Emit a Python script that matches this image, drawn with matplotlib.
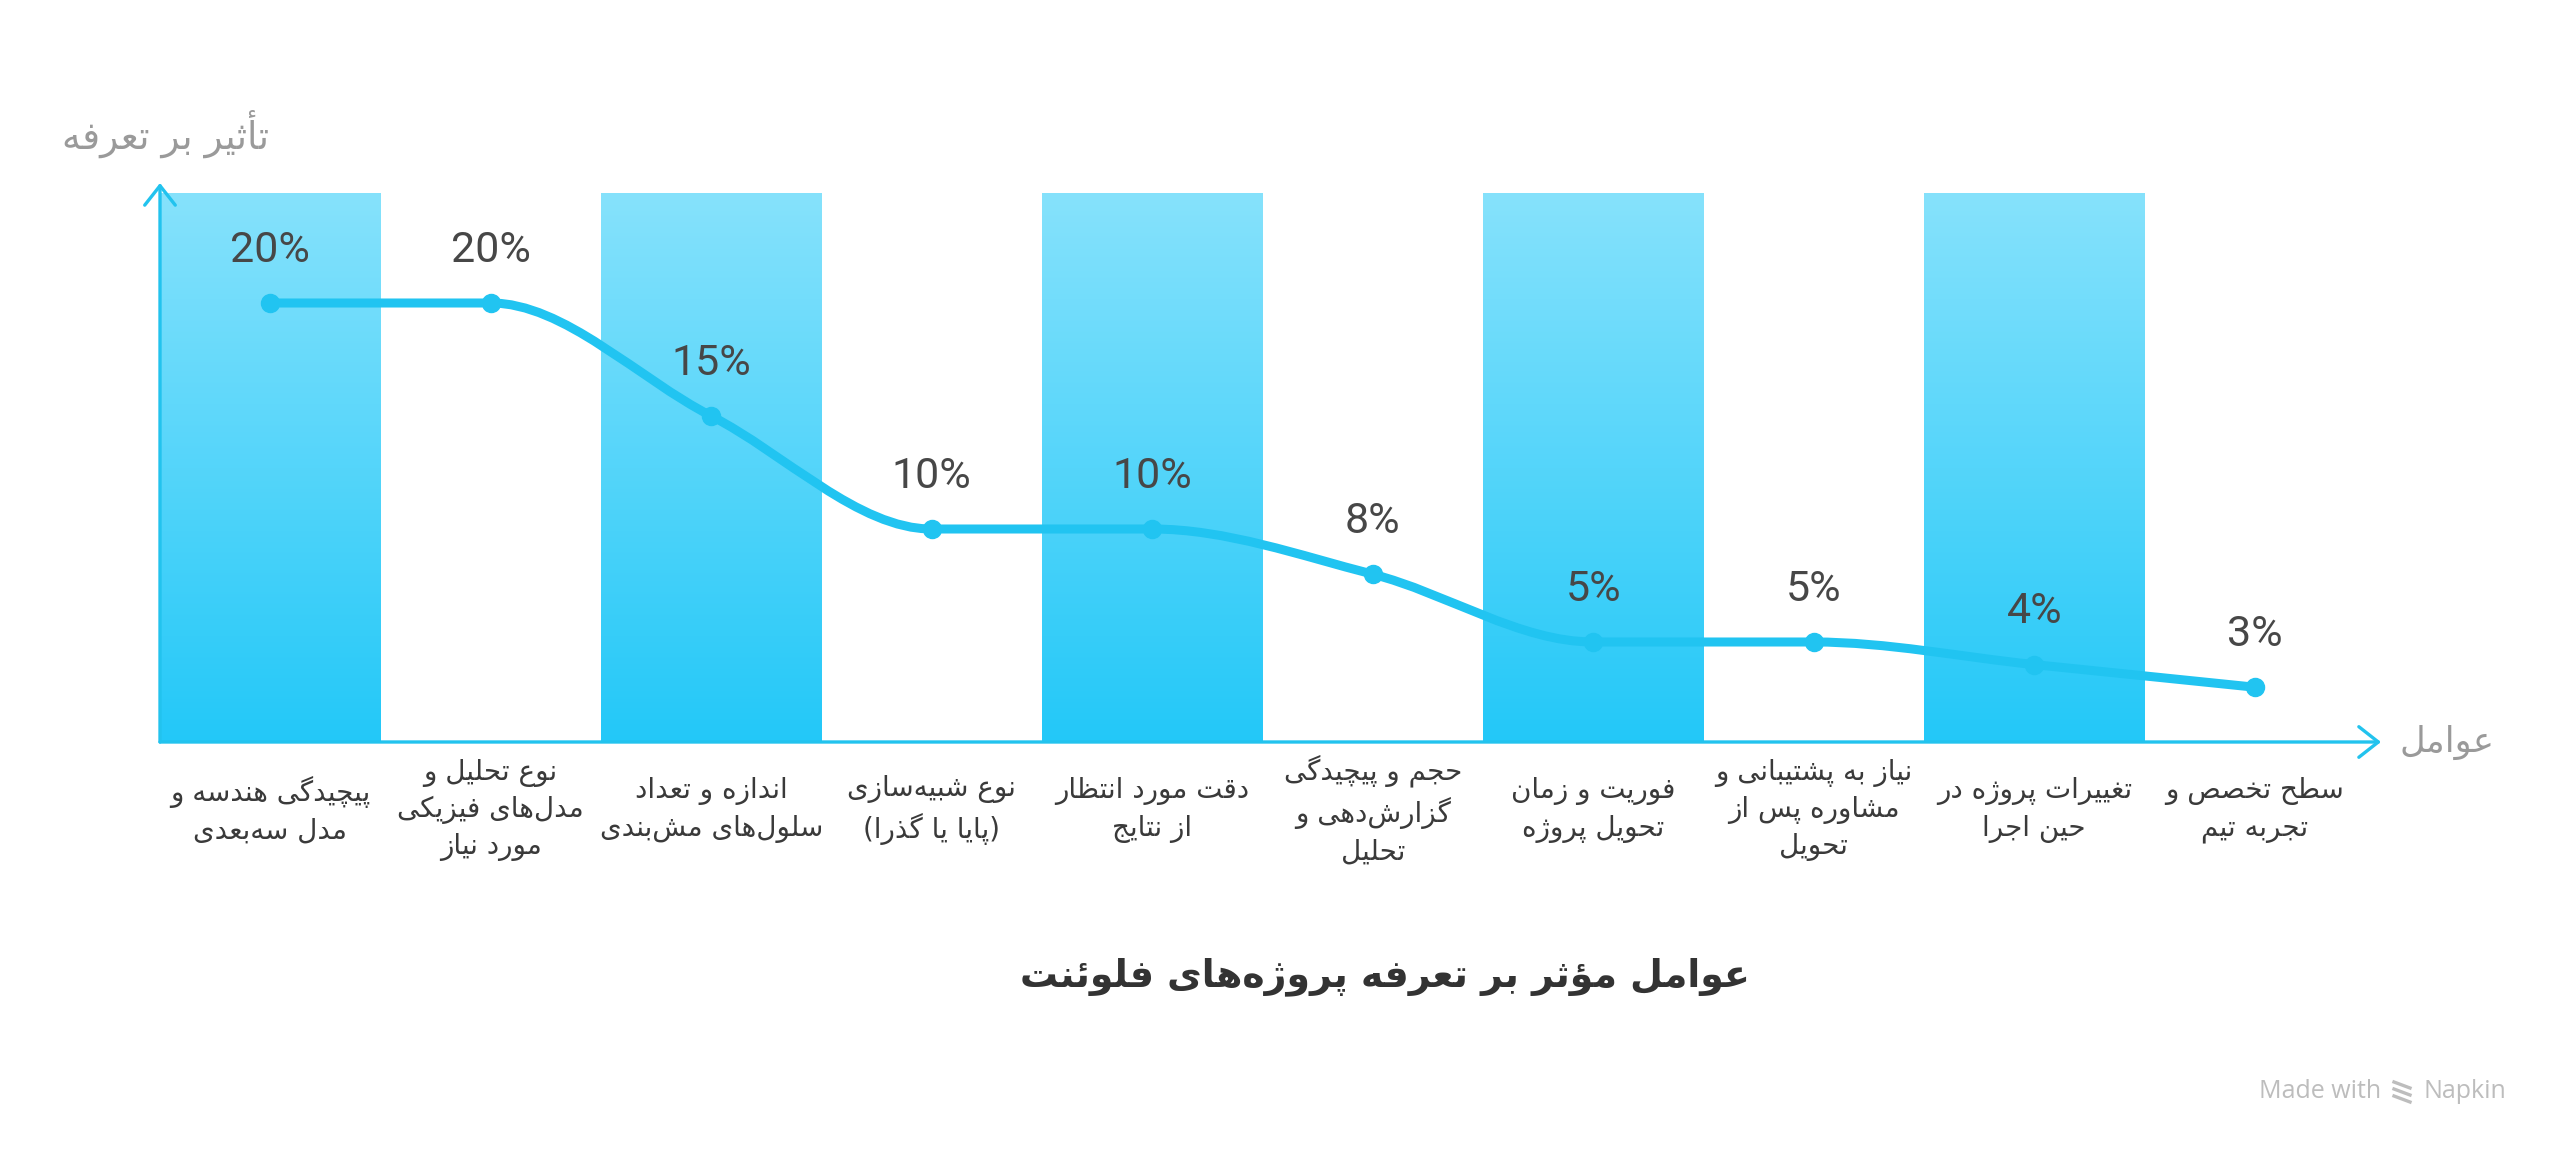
import numpy as np
import matplotlib
matplotlib.use("Agg")
import matplotlib.pyplot as plt
from matplotlib.path import Path
from matplotlib.patches import PathPatch
from matplotlib.colors import LinearSegmentedColormap

# ---------------- data ----------------
categories = [
    "پیچیدگی هندسه و\nمدل سه‌بعدی",
    "نوع تحلیل و\nمدل‌های فیزیکی\nمورد نیاز",
    "اندازه و تعداد\nسلول‌های مش‌بندی",
    "نوع شبیه‌سازی\n(پایا یا گذرا)",
    "دقت مورد انتظار\nاز نتایج",
    "حجم و پیچیدگی\nگزارش‌دهی و\nتحلیل",
    "فوریت و زمان\nتحویل پروژه",
    "نیاز به پشتیبانی و\nمشاوره پس از\nتحویل",
    "تغییرات پروژه در\nحین اجرا",
    "سطح تخصص و\nتجربه تیم",
]
values = [20, 20, 15, 10, 10, 8, 5, 5, 4, 3]
value_labels = ["20%", "20%", "15%", "10%", "10%", "8%", "5%", "5%", "4%", "3%"]
y_label = "تأثیر بر تعرفه"
x_label = "عوامل"
title = "عوامل مؤثر بر تعرفه پروژه‌های فلوئنت"
watermark_left = "Made with"
watermark_right = "Napkin"

# ---------------- minimal Persian shaping (matplotlib has no RTL shaping) ----------------
FORMS = {
    "\u0627": ("\uFE8D", "\uFE8E", None, None),
    "\u0623": ("\uFE83", "\uFE84", None, None),
    "\u0625": ("\uFE87", "\uFE88", None, None),
    "\u0622": ("\uFE81", "\uFE82", None, None),
    "\u062F": ("\uFEA9", "\uFEAA", None, None),
    "\u0630": ("\uFEAB", "\uFEAC", None, None),
    "\u0631": ("\uFEAD", "\uFEAE", None, None),
    "\u0632": ("\uFEAF", "\uFEB0", None, None),
    "\u0698": ("\uFB8A", "\uFB8B", None, None),
    "\u0648": ("\uFEED", "\uFEEE", None, None),
    "\u0624": ("\uFE85", "\uFE86", None, None),
    "\u0628": ("\uFE8F", "\uFE90", "\uFE91", "\uFE92"),
    "\u067E": ("\uFB56", "\uFB57", "\uFB58", "\uFB59"),
    "\u062A": ("\uFE95", "\uFE96", "\uFE97", "\uFE98"),
    "\u062B": ("\uFE99", "\uFE9A", "\uFE9B", "\uFE9C"),
    "\u062C": ("\uFE9D", "\uFE9E", "\uFE9F", "\uFEA0"),
    "\u0686": ("\uFB7A", "\uFB7B", "\uFB7C", "\uFB7D"),
    "\u062D": ("\uFEA1", "\uFEA2", "\uFEA3", "\uFEA4"),
    "\u062E": ("\uFEA5", "\uFEA6", "\uFEA7", "\uFEA8"),
    "\u0633": ("\uFEB1", "\uFEB2", "\uFEB3", "\uFEB4"),
    "\u0634": ("\uFEB5", "\uFEB6", "\uFEB7", "\uFEB8"),
    "\u0635": ("\uFEB9", "\uFEBA", "\uFEBB", "\uFEBC"),
    "\u0636": ("\uFEBD", "\uFEBE", "\uFEBF", "\uFEC0"),
    "\u0637": ("\uFEC1", "\uFEC2", "\uFEC3", "\uFEC4"),
    "\u0638": ("\uFEC5", "\uFEC6", "\uFEC7", "\uFEC8"),
    "\u0639": ("\uFEC9", "\uFECA", "\uFECB", "\uFECC"),
    "\u063A": ("\uFECD", "\uFECE", "\uFECF", "\uFED0"),
    "\u0641": ("\uFED1", "\uFED2", "\uFED3", "\uFED4"),
    "\u0642": ("\uFED5", "\uFED6", "\uFED7", "\uFED8"),
    "\u06A9": ("\uFB8E", "\uFB8F", "\uFB90", "\uFB91"),
    "\u06AF": ("\uFB92", "\uFB93", "\uFB94", "\uFB95"),
    "\u0644": ("\uFEDD", "\uFEDE", "\uFEDF", "\uFEE0"),
    "\u0645": ("\uFEE1", "\uFEE2", "\uFEE3", "\uFEE4"),
    "\u0646": ("\uFEE5", "\uFEE6", "\uFEE7", "\uFEE8"),
    "\u0647": ("\uFEE9", "\uFEEA", "\uFEEB", "\uFEEC"),
    "\u06CC": ("\uFBFC", "\uFBFD", "\uFBFE", "\uFBFF"),
    "\u064A": ("\uFEF1", "\uFEF2", "\uFEF3", "\uFEF4"),
    "\u0626": ("\uFE89", "\uFE8A", "\uFE8B", "\uFE8C"),
}
LAM_ALEF = {"\u0627": ("\uFEFB", "\uFEFC"), "\u0623": ("\uFEF7", "\uFEF8"),
            "\u0625": ("\uFEF9", "\uFEFA"), "\u0622": ("\uFEF5", "\uFEF6")}
MIRROR = {"(": ")", ")": "("}


def _dual(c):
    return c in FORMS and FORMS[c][2] is not None


def shape_line(s):
    out = []
    n = len(s)
    i = 0
    while i < n:
        c = s[i]
        if c == "\u200c":
            i += 1
            continue
        if c not in FORMS:
            out.append(c)
            i += 1
            continue
        prev = s[i - 1] if i > 0 else None
        nxt = s[i + 1] if i + 1 < n else None
        jp = prev is not None and _dual(prev)
        if c == "\u0644" and nxt in LAM_ALEF:
            out.append(LAM_ALEF[nxt][1] if jp else LAM_ALEF[nxt][0])
            i += 2
            continue
        jn = nxt is not None and nxt in FORMS and _dual(c)
        iso, fin, ini, med = FORMS[c]
        if jp and jn:
            out.append(med)
        elif jp:
            out.append(fin)
        elif jn:
            out.append(ini)
        else:
            out.append(iso)
        i += 1
    vis = "".join(MIRROR.get(ch, ch) for ch in reversed(out))
    return vis


def fa(text):
    return "\n".join(shape_line(line) for line in text.split("\n"))


# ---------------- figure ----------------
W, H = 2560, 1156
fig = plt.figure(figsize=(W / 100, H / 100), dpi=100)
fig.patch.set_facecolor("white")

left_px, right_px, top_px, bottom_px = 160, 2381, 183, 742
ax = fig.add_axes([left_px / W, 1 - bottom_px / H, (right_px - left_px) / W, (bottom_px - top_px) / H])
n = len(values)
px_per_unit = 22.6
zero_px = 755
y_min = (zero_px - bottom_px) / px_per_unit
y_max = (zero_px - top_px) / px_per_unit
x_min = -0.5
x_max = -0.5 + (right_px - left_px) / 220.5
band_top = (zero_px - 193) / px_per_unit

LINE = "#21C4F1"
AX_COL = "#22C3EE"
band_cmap = LinearSegmentedColormap.from_list("band", ["#23C8F8", "#86E2FC"])
grad = np.linspace(0, 1, 256).reshape(-1, 1)

for i in range(0, n, 2):
    ax.imshow(grad, extent=(i - 0.5, i + 0.5, y_min, band_top), origin="lower",
              cmap=band_cmap, aspect="auto", zorder=1, interpolation="bicubic")

ax.set_xlim(x_min, x_max)
ax.set_ylim(y_min, y_max)
ax.axis("off")

# axes arrows
arrow_kw = dict(arrowstyle="->,head_length=0.7,head_width=0.55", lw=2.4, color=AX_COL,
                mutation_scale=20, shrinkA=0, shrinkB=0)
ax.annotate("", xy=(x_min, y_max), xytext=(x_min, y_min), arrowprops=arrow_kw,
            annotation_clip=False, zorder=3)
ax.annotate("", xy=(x_max, y_min), xytext=(x_min, y_min), arrowprops=arrow_kw,
            annotation_clip=False, zorder=3)

# smooth monotone curve (d3 curveMonotoneX equivalent) built as Bezier path
xs = np.arange(n, dtype=float)
ys = np.array(values, dtype=float)

t = np.zeros(n)
for k in range(1, n - 1):
    h0, h1 = xs[k] - xs[k - 1], xs[k + 1] - xs[k]
    s0, s1 = (ys[k] - ys[k - 1]) / h0, (ys[k + 1] - ys[k]) / h1
    p = (s0 * h1 + s1 * h0) / (h0 + h1)
    t[k] = (float(np.sign(s0)) + float(np.sign(s1))) * min(abs(s0), abs(s1), 0.5 * abs(p))
t[0] = (3 * (ys[1] - ys[0]) / (xs[1] - xs[0]) - t[1]) / 2
t[-1] = (3 * (ys[-1] - ys[-2]) / (xs[-1] - xs[-2]) - t[-2]) / 2

verts = [(xs[0], ys[0])]
codes = [Path.MOVETO]
for k in range(n - 1):
    dx = (xs[k + 1] - xs[k]) / 3
    verts += [(xs[k] + dx, ys[k] + dx * t[k]),
              (xs[k + 1] - dx, ys[k + 1] - dx * t[k + 1]),
              (xs[k + 1], ys[k + 1])]
    codes += [Path.CURVE4] * 3
ax.add_patch(PathPatch(Path(verts, codes), fill=False, lw=6.5, edgecolor=LINE,
                       capstyle="round", joinstyle="round", zorder=4))
ax.plot(xs, ys, "o", ms=13, color=LINE, zorder=5)

for k in range(n):
    ax.annotate(value_labels[k], (xs[k], ys[k]), xytext=(0, 38), textcoords="offset points",
                ha="center", va="center", fontsize=31, color="#474747", family="Roboto",
                zorder=6)

# category labels
label_y = (zero_px - 810) / px_per_unit
for k, cat in enumerate(categories):
    ax.text(xs[k], label_y, fa(cat), ha="center", va="center", multialignment="center",
            fontsize=20, color="#3a3a3a", family=["DejaVu Sans"], linespacing=1.38,
            clip_on=False)

# axis titles
fig.text(166 / W, 1 - 134 / H, fa(y_label), ha="center", va="center", fontsize=27,
         color="#9a9a9a", family=["DejaVu Sans"])
fig.text(2447 / W, 1 - 742 / H, fa(x_label), ha="center", va="center", fontsize=25.5,
         color="#9a9a9a", family=["DejaVu Sans"])

# chart title
fig.text(1385 / W, 1 - 977 / H, fa(title), ha="center", va="center", fontsize=27.3,
         fontweight="bold", color="#333333", family=["DejaVu Sans"])

# watermark
fig.text(2381 / W, 1 - 1092 / H, watermark_left, ha="right", va="center", fontsize=18,
         color="#bdbdbd", family="Open Sans")
fig.text(2423 / W, 1 - 1092 / H, watermark_right, ha="left", va="center", fontsize=18,
         color="#bdbdbd", family="Open Sans")
for dy in (-7, 0, 7):
    fig.add_artist(plt.Line2D([2394 / W, 2410 / W], [1 - (1092 + dy - 3) / H, 1 - (1092 + dy + 3) / H],
                              color="#bdbdbd", lw=2.4))

fig.savefig("out.png", dpi=100, facecolor="white")
